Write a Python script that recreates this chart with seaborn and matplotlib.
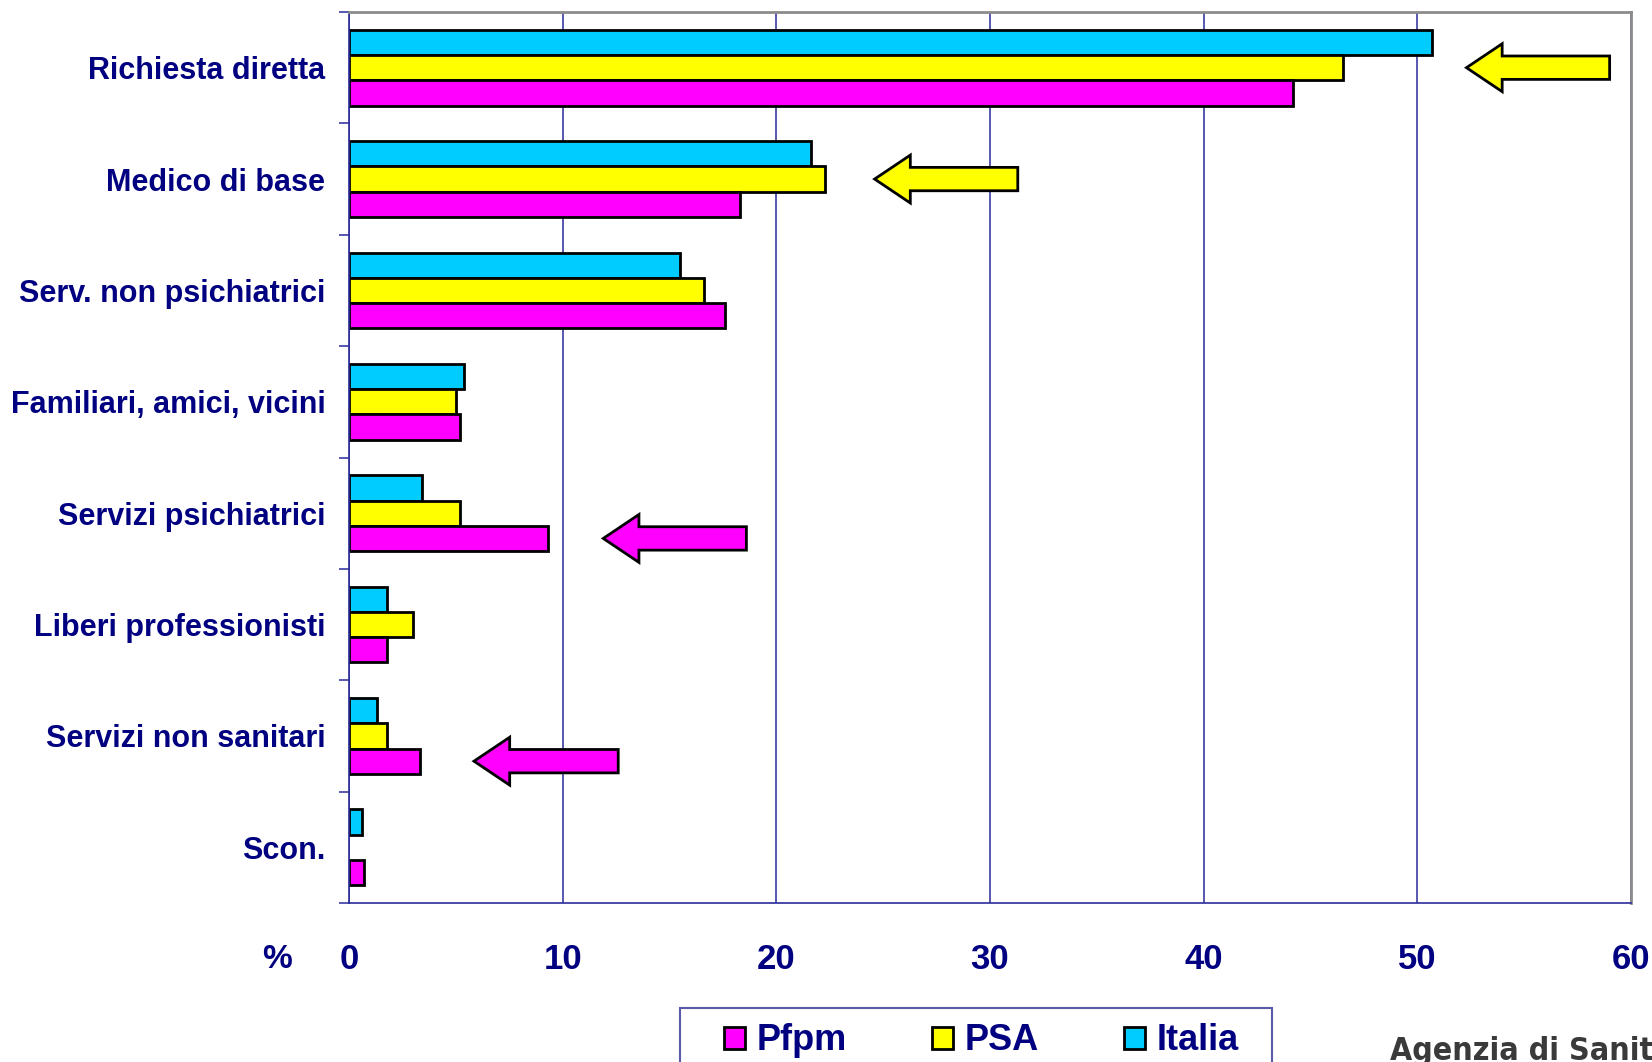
import numpy as np
import pandas as pd
import seaborn as sns
import matplotlib as mpl
from matplotlib import pyplot as plt
from matplotlib.patches import FancyArrow, Patch, Rectangle

sns.set_style("white")
plt.rcParams["font.family"] = ["Liberation Sans", "DejaVu Sans"]

NAVY = "#000080"
PFPM = "#FF00FF"
PSA = "#FFFF00"
ITALIA = "#00CCFF"

categories = [
    "Richiesta diretta",
    "Medico di base",
    "Serv. non psichiatrici",
    "Familiari, amici, vicini",
    "Servizi psichiatrici",
    "Liberi professionisti",
    "Servizi non sanitari",
    "Scon.",
]
pfpm = [44.2, 18.3, 17.6, 5.2, 9.3, 1.8, 3.3, 0.7]
psa = [46.5, 22.3, 16.6, 5.0, 5.2, 3.0, 1.8, np.nan]
italia = [50.7, 21.6, 15.5, 5.4, 3.4, 1.8, 1.3, 0.6]

series = ["Pfpm", "PSA", "Italia"]
colors = {"Pfpm": PFPM, "PSA": PSA, "Italia": ITALIA}

# arrows: (category, series the arrow points at, tail value, tip value)
arrows = [
    ("Richiesta diretta", "PSA", 59.0, 52.3),
    ("Medico di base", "PSA", 31.3, 24.6),
    ("Servizi psichiatrici", "Pfpm", 18.6, 11.9),
    ("Servizi non sanitari", "Pfpm", 12.6, 5.85),
]

df = pd.DataFrame({
    "categoria": categories * 3,
    "serie": ["Pfpm"] * 8 + ["PSA"] * 8 + ["Italia"] * 8,
    "valore": pfpm + psa + italia,
})

fig = plt.figure(figsize=(16.52, 10.62), dpi=100)
ax = fig.add_axes([349 / 1652, 1 - 903 / 1062, (1631 - 349) / 1652, (903 - 12) / 1062])

hue_order = ["Italia", "PSA", "Pfpm"]
sns.barplot(
    data=df, y="categoria", x="valore", hue="serie",
    hue_order=hue_order, order=categories, palette=colors, saturation=1,
    orient="h", width=0.68, edgecolor="black", linewidth=2,
    ax=ax, legend=False, errorbar=None,
)

# arrows
bar_h = 0.68 / 3
offsets = {"Italia": -bar_h, "PSA": 0.0, "Pfpm": bar_h}
for cat, ser, tail, tip in arrows:
    yc = categories.index(cat) + offsets[ser]
    ax.add_patch(FancyArrow(
        tail, yc, tip - tail, 0, width=0.21, head_width=0.43,
        head_length=1.67, length_includes_head=True,
        facecolor=colors[ser], edgecolor="black", linewidth=2,
        zorder=5, clip_on=False,
    ))

ax.set_xlim(0, 60)
ax.set_ylim(7.5, -0.5)
ax.set_xticks(np.arange(0, 61, 10))
ax.set_yticks(np.arange(8))
ax.set_yticklabels(categories)
ax.set_yticks(np.arange(-0.5, 8, 1), minor=True)
ax.set_xlabel("")
ax.set_ylabel("")

ax.xaxis.grid(True, color="#2a2a9a", linewidth=1.1)
ax.yaxis.grid(False)
ax.set_axisbelow(True)

ax.tick_params(axis="x", which="major", direction="out", length=7, width=1.1,
               color="#2a2a9a", pad=22, labelsize=25, labelcolor=NAVY)
ax.tick_params(axis="y", which="major", length=0, pad=17, labelsize=22, labelcolor=NAVY)
ax.tick_params(axis="y", which="minor", direction="out", length=7, width=1.1, color="#2a2a9a", left=True)
for lab in ax.get_xticklabels() + ax.get_yticklabels():
    lab.set_fontweight("bold")

for side in ["left", "bottom"]:
    ax.spines[side].set_color("#2a2a9a")
    ax.spines[side].set_linewidth(1.2)
for side in ["top", "right"]:
    ax.spines[side].set_visible(True)
    ax.spines[side].set_color("#8c8c8c")
    ax.spines[side].set_linewidth(2)

fig.text(277 / 1652, 1 - 960 / 1062, "%", fontsize=24, fontweight="bold",
         color=NAVY, ha="center", va="center")

# legend box and entries
fig.patches.append(Rectangle((680 / 1652, -0.05), (1272 - 680) / 1652, 0.05 + (1062 - 1008) / 1062,
                             transform=fig.transFigure, facecolor="white",
                             edgecolor="#5a5aa8", linewidth=1.5))
handles = [Patch(facecolor=colors[s], edgecolor="black", linewidth=2, label=s) for s in series]
leg = fig.legend(handles=handles, loc="center left", bbox_to_anchor=(706 / 1652, 1 - 1041 / 1062),
                 ncol=3, frameon=False, borderpad=0, handlelength=0.58, handleheight=0.58,
                 handletextpad=0.33, columnspacing=2.35,
                 prop={"size": 26, "weight": "bold"})
for t in leg.get_texts():
    t.set_color(NAVY)

fig.text(1390 / 1652, 1 - 1060 / 1062, "Agenzia di Sanità Pubblica", fontsize=23,
         fontweight="bold", color="#3a3a3a", ha="left", va="baseline",
         family=["DejaVu Sans"], fontstretch="condensed")

fig.savefig("out.png", dpi=100)
